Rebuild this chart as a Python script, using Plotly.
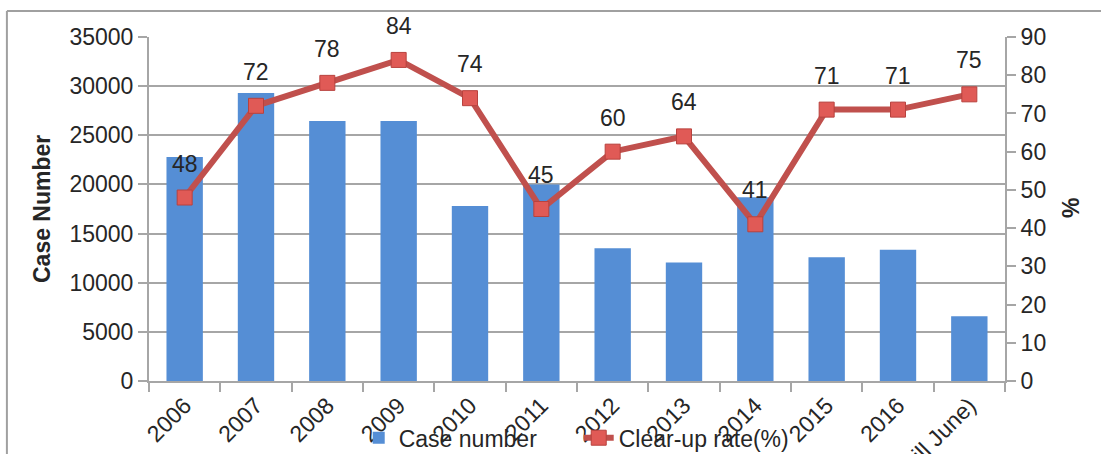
import plotly.graph_objects as go

categories = ["2006", "2007", "2008", "2009", "2010", "2011", "2012", "2013",
              "2014", "2015", "2016", "2017 (till June)"]
case_numbers = [22800, 29300, 26450, 26450, 17800, 20000, 13500, 12050,
                18700, 12600, 13350, 6600]
clearup_rate = [48, 72, 78, 84, 74, 45, 60, 64, 41, 71, 71, 75]

FONT = "Liberation Sans, Arial, sans-serif"
TXT = "#262626"
GRID = "#a6a6a6"
FS = 23

fig = go.Figure()
fig.add_trace(go.Bar(
    x=categories, y=case_numbers, name="Case number",
    marker=dict(color="#558ed5", line=dict(width=0)),
    yaxis="y"))
fig.add_trace(go.Scatter(
    x=categories, y=clearup_rate, name="Clear-up rate(%)",
    mode="lines+markers", yaxis="y2",
    line=dict(color="#c0504d", width=6),
    marker=dict(symbol="square", size=15, color="#e05a56",
                line=dict(color="#b8423e", width=1))))

annotations = []
for i, r in enumerate(clearup_rate):
    annotations.append(dict(x=i, y=r, xref="x", yref="y2", text=str(r),
                            showarrow=False, yshift=34,
                            font=dict(family=FONT, size=FS, color=TXT)))
annotations.append(dict(x=(42 - 149) / 856, y=0.5, xref="paper", yref="paper",
                        xanchor="center", yanchor="middle",
                        text="<b>Case Number</b>", textangle=-90,
                        showarrow=False,
                        font=dict(family=FONT, size=23, color=TXT)))
annotations.append(dict(x=(1071 - 149) / 856, y=(381 - 208) / 344,
                        xref="paper", yref="paper",
                        xanchor="center", yanchor="middle",
                        text="<b>%</b>", textangle=-90, showarrow=False,
                        font=dict(family=FONT, size=23, color=TXT)))

shapes = [
    dict(type="line", xref="paper", yref="paper", x0=-0.166, x1=-0.166,
         y0=1.0756, y1=-0.35, line=dict(color="#a0a0a0", width=2)),
    dict(type="line", xref="paper", yref="paper", x0=-0.166, x1=1.2,
         y0=1.0756, y1=1.0756, line=dict(color="#a0a0a0", width=2)),
]

fig.update_layout(
    width=1101, height=454,
    margin=dict(l=149, r=96, t=37, b=73, autoexpand=False),
    paper_bgcolor="white", plot_bgcolor="white",
    font=dict(family=FONT, size=FS, color=TXT),
    bargap=0.49,
    showlegend=True,
    legend=dict(orientation="h", x=0.245, y=-0.165, xanchor="left",
                yanchor="middle", bgcolor="rgba(0,0,0,0)",
                font=dict(family=FONT, size=FS, color=TXT),
                itemwidth=30, tracegroupgap=0,
                entrywidth=175, entrywidthmode="pixels"),
    xaxis=dict(type="category", range=[-0.5, len(categories) - 0.5],
               automargin=False,
               tickangle=-45, tickson="boundaries",
               ticks="outside", ticklen=9, tickcolor=GRID, tickwidth=2,
               showline=True, linecolor=GRID, linewidth=2,
               showgrid=False, tickfont=dict(size=FS, color=TXT)),
    yaxis=dict(range=[0, 35000], dtick=5000, tickformat="d", showgrid=True,
               automargin=False,
               gridcolor=GRID, gridwidth=2, zeroline=False,
               showline=True, linecolor=GRID, linewidth=2,
               ticks="outside", ticklen=9, tickcolor=GRID, tickwidth=2,
               tickfont=dict(size=FS, color=TXT)),
    yaxis2=dict(range=[0, 90], dtick=10, overlaying="y", side="right",
                automargin=False,
                showgrid=False, zeroline=False,
                showline=True, linecolor=GRID, linewidth=2,
                ticks="outside", ticklen=9, tickcolor=GRID, tickwidth=2,
                tickfont=dict(size=FS, color=TXT)),
    annotations=annotations,
    shapes=shapes,
)

fig.write_html("out.html")
